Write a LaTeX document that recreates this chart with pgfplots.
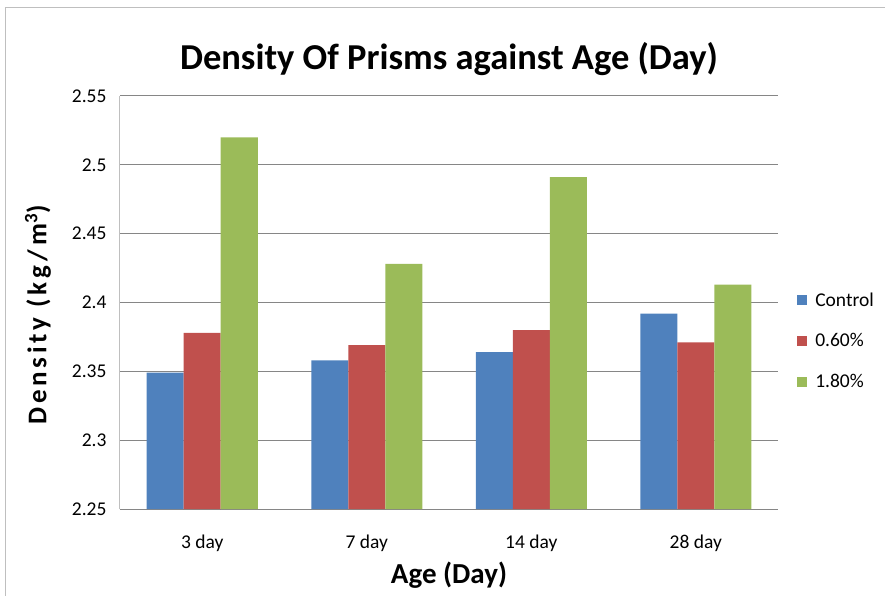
\documentclass[border=0pt]{standalone}
\usepackage{fontspec}
\setmainfont{Carlito}
\usepackage{pgfplots}
\pgfplotsset{compat=1.18}
\definecolor{cblue}{HTML}{4F81BD}
\definecolor{cred}{HTML}{C0504D}
\definecolor{cgreen}{HTML}{9BBB59}
\definecolor{gridc}{HTML}{868686}
\definecolor{axc}{HTML}{BFBFBF}
\begin{document}
\begin{tikzpicture}
\path[use as bounding box] (-120pt,-86pt) rectangle (765pt,509pt);
\draw[axc,line width=1pt] (-114pt,-120pt) -- (-114pt,501pt) -- (800pt,501pt);
\begin{axis}[
  at={(0pt,0pt)}, anchor=south west,
  scale only axis, width=658pt, height=413pt,
  ybar=0pt, bar width=37pt,
  xmin=-0.5, xmax=3.5, ymin=2.25, ymax=2.55,
  xtick={0,1,2,3}, xticklabels={3 day,7 day,14 day,28 day},
  ytick={2.25,2.3,2.35,2.4,2.45,2.5,2.55},
  /pgf/number format/assume math mode=true,
  yticklabel style={/pgf/number format/fixed,/pgf/number format/precision=2},
  ticklabel style={font=\fontsize{19.5}{22}\selectfont},
  xticklabel shift=22pt, yticklabel shift=10pt,
  major tick length=0pt,
  axis x line*=bottom, axis y line*=left,
  x axis line style={gridc,line width=1pt,-},
  y axis line style={axc,line width=1pt,-},
  ymajorgrids, grid style={gridc,line width=1pt},
  title={Density Of Prisms against Age (Day)},
  title style={font=\bfseries\fontsize{36.5}{40}\selectfont,at={(rel axis cs:0.5,1.075)},anchor=center},
  xlabel={Age (Day)},
  xlabel style={font=\bfseries\fontsize{29}{32}\selectfont,at={(axis description cs:0.5,-0.16)},anchor=center},
  ylabel={\addfontfeature{LetterSpace=14}Density (kg/m\textsuperscript{3})},
  ylabel style={font=\bfseries\fontsize{27}{30}\selectfont,at={(axis description cs:-0.1246,0.47)},anchor=center},
  legend style={at={(rel axis cs:1.029,0.407)},anchor=west,draw=none,fill=none,
    font=\fontsize{19.5}{22}\selectfont,row sep=22pt,inner sep=0pt,
    cells={anchor=west},
    nodes={inner xsep=8pt}},
  legend image code/.code={\fill[#1] (0pt,-5pt) rectangle (10pt,5pt);},
]
\addplot[fill=cblue,draw=none] coordinates {(0,2.349) (1,2.358) (2,2.364) (3,2.392)};
\addplot[fill=cred,draw=none] coordinates {(0,2.378) (1,2.369) (2,2.380) (3,2.371)};
\addplot[fill=cgreen,draw=none] coordinates {(0,2.520) (1,2.428) (2,2.491) (3,2.413)};
\legend{Control,0.60\%,1.80\%}
\end{axis}
\end{tikzpicture}
\end{document}
